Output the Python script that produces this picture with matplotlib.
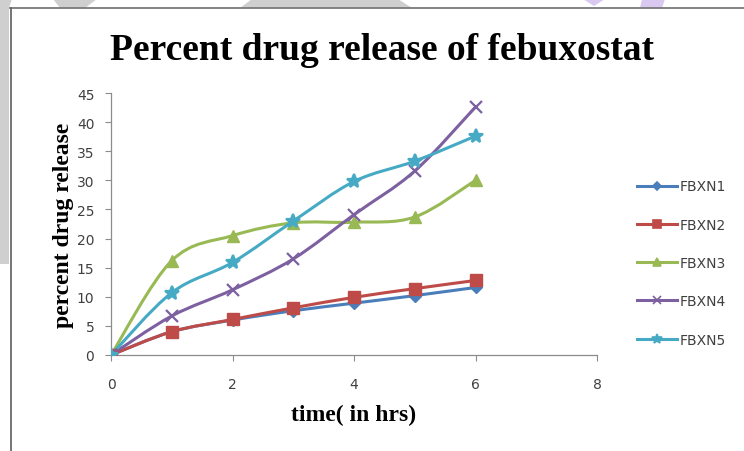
import numpy as np
import matplotlib
matplotlib.use("Agg")
import matplotlib.pyplot as plt
from matplotlib.path import Path
from matplotlib.patches import PathPatch, Polygon
from matplotlib.lines import Line2D

hours = [0, 1, 2, 3, 4, 5, 6]
fbxn1 = [0, 4.0, 6.0, 7.6, 8.9, 10.2, 11.6]
fbxn2 = [0, 4.0, 6.1, 8.1, 9.9, 11.4, 12.8]
fbxn3 = [0, 16.2, 20.5, 22.7, 22.8, 23.7, 30.0]
fbxn4 = [0, 6.7, 11.2, 16.5, 24.1, 31.6, 42.6]
fbxn5 = [0, 10.7, 15.9, 23.0, 29.8, 33.3, 37.6]

names = ["FBXN1", "FBXN2", "FBXN3", "FBXN4", "FBXN5"]
series = [fbxn1, fbxn2, fbxn3, fbxn4, fbxn5]
colors = ["#4A7EBB", "#BE4B48", "#98B954", "#7D60A0", "#46AAC5"]
markers = ["D", "s", "^", "x", "*"]
msizes = [6, 8, 8, 9, 10]


def smooth_path(xs, ys):
    # Bezier path through the points with Catmull-Rom style handles (like Excel smoothing)
    pts = np.column_stack([xs, ys]).astype(float)
    n = len(pts)
    verts = [pts[0]]
    codes = [Path.MOVETO]
    for i in range(n - 1):
        p0 = pts[max(i - 1, 0)]
        p1 = pts[i]
        p2 = pts[i + 1]
        p3 = pts[min(i + 2, n - 1)]
        c1 = p1 + (p2 - p0) / 6.0
        c2 = p2 - (p3 - p1) / 6.0
        verts += [c1, c2, p2]
        codes += [Path.CURVE4] * 3
    return Path(verts, codes)


fig = plt.figure(figsize=(7.44, 4.52), dpi=100)

# faint watermark shapes behind the chart
W, H = 744, 452
def fig_poly(pts, color):
    p = Polygon([(x / W, 1 - y / H) for x, y in pts], closed=True,
                transform=fig.transFigure, facecolor=color, edgecolor="none", zorder=0)
    fig.patches.append(p)

fig_poly([(0, 0), (12, 0), (9, 9), (9, 265), (0, 265)], "#cfcfcf")
fig_poly([(53, 0), (97, 0), (85, 9), (60, 9)], "#cfcfcf")
fig_poly([(240, 9), (252, 0), (398, 0), (412, 9)], "#cfcfcf")
fig_poly([(583, 0), (605, 0), (594, 7)], "#d9c8f0")
fig_poly([(642, 0), (665, 0), (662, 9), (640, 9)], "#d9c8f0")

# chart frame (top and left edges visible)
fig.add_artist(Line2D([10 / W, 1], [1 - 8.5 / H, 1 - 8.5 / H], transform=fig.transFigure,
                      color="#7a7a7a", lw=1.3))
fig.add_artist(Line2D([10.5 / W, 10.5 / W], [0, 1 - 8.5 / H], transform=fig.transFigure,
                      color="#6a6a6a", lw=1.3))

ax = fig.add_axes([111 / W, 1 - 356 / H, (597 - 111) / W, (356 - 94) / H])

for name, ys, c, m, ms in zip(names, series, colors, markers, msizes):
    ax.add_patch(PathPatch(smooth_path(hours, ys), facecolor="none", edgecolor=c,
                           lw=2.2, zorder=2))
    mew = 1.6 if m in ("x", "*") else 1.0
    ax.plot(hours, ys, linestyle="none", marker=m, color=c, markersize=ms,
            markeredgewidth=mew, zorder=3)

ax.set_xlim(0, 8)
ax.set_ylim(0, 45)
ax.set_xticks(range(0, 9, 2))
ax.set_yticks(range(0, 46, 5))
for s in ("top", "right"):
    ax.spines[s].set_visible(False)
for s in ("left", "bottom"):
    ax.spines[s].set_color("#8c8c8c")
    ax.spines[s].set_linewidth(0.9)
ax.tick_params(axis="both", colors="#8c8c8c", labelcolor="#404040", labelsize=10,
               length=4, width=0.8, direction="out")
ax.tick_params(axis="y", pad=8)
ax.tick_params(axis="x", pad=12)
for lab in ax.get_xticklabels() + ax.get_yticklabels():
    lab.set_family("DejaVu Sans")

ax.set_xlabel("time( in hrs)", family="Liberation Serif", fontweight="bold",
              fontsize=17, labelpad=9)
ax.set_ylabel("percent drug release", family="Liberation Serif", fontweight="bold",
              fontsize=17, labelpad=2)
fig.text(382 / W, 1 - 50 / H, "Percent drug release of febuxostat", family="Liberation Serif",
         fontweight="bold", fontsize=27, ha="center", va="center")

handles = [Line2D([], [], color=c, marker=m, markersize=ms * 0.7, lw=2.2,
                  markeredgewidth=1.2) for c, m, ms in zip(colors, markers, msizes)]
leg = fig.legend(handles, names, loc="center left", bbox_to_anchor=(624 / W, 1 - 264 / H),
                 frameon=False, fontsize=10, labelspacing=1.75, handlelength=2.9,
                 handletextpad=0.2, labelcolor="#404040")

fig.savefig("out.png", dpi=100)
